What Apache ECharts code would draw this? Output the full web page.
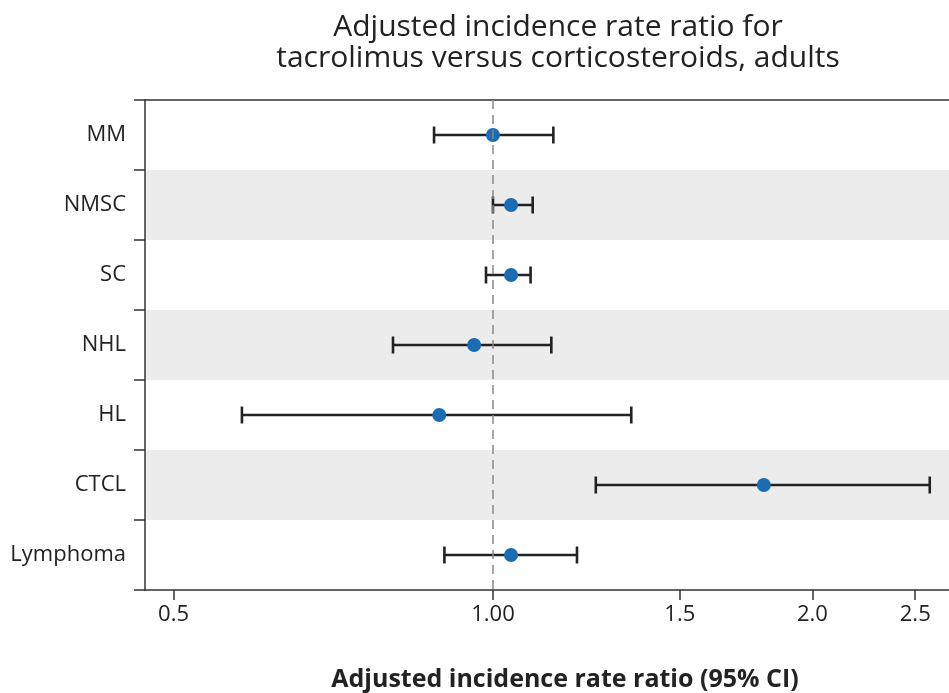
<!DOCTYPE html>
<html>
<head>
<meta charset="utf-8">
<script src="https://cdn.jsdelivr.net/npm/echarts@6/dist/echarts.min.js"></script>
<style>
  html, body { margin: 0; padding: 0; background: #fff; }
  #chart { width: 949px; height: 693px; }
</style>
</head>
<body>
<div id="chart"></div>
<script>
// forest plot data
var categories = ["MM", "NMSC", "SC", "NHL", "HL", "CTCL", "Lymphoma"];
var estimates = [1.00, 1.04, 1.04, 0.96, 0.89, 1.80, 1.04];
var lower = [0.88, 1.00, 0.985, 0.805, 0.58, 1.25, 0.90];
var upper = [1.14, 1.09, 1.085, 1.135, 1.35, 2.58, 1.20];
var tickValues = [0.5, 1, 1.5, 2, 2.5];
var tickLabels = ["0.5", "1.00", "1.5", "2.0", "2.5"];

var font = "'Open Sans', Lato, sans-serif";
var ln = Math.log;

var chartDom = document.getElementById("chart");
var myChart = echarts.init(chartDom);

var barData = categories.map(function (c, i) {
  return [i, ln(lower[i]), ln(upper[i])];
});
var pointData = categories.map(function (c, i) {
  return [ln(estimates[i]), c];
});
var tickPos = tickValues.map(function (v) { return ln(v); });

var option = {
  animation: false,
  title: {
    text: "Adjusted incidence rate ratio for\ntacrolimus versus corticosteroids, adults",
    left: 553,
    top: 7,
    textAlign: "center",
    textStyle: {
      fontFamily: font,
      fontSize: 30,
      fontWeight: 500,
      lineHeight: 31,
      color: "#222",
    },
  },
  grid: {
    left: 145,
    right: 0,
    top: 100,
    bottom: 103,
    outerBoundsMode: "none",
    containLabel: false,
  },
  xAxis: [
    {
      type: "value",
      min: ln(0.47),
      max: ln(2.69),
      splitLine: { show: false },
      axisLine: { show: true, lineStyle: { color: "#333", width: 1.5 } },
      axisTick: {
        show: true,
        length: 10,
        customValues: tickPos,
        lineStyle: { color: "#333", width: 1.5 },
      },
      axisLabel: {
        customValues: tickPos,
        margin: 14,
        fontFamily: font,
        fontSize: 22,
        color: "#222",
        formatter: function (value) {
          var best = 0;
          for (var i = 1; i < tickPos.length; i++) {
            if (Math.abs(tickPos[i] - value) < Math.abs(tickPos[best] - value)) best = i;
          }
          return tickLabels[best];
        },
      },
      name: "Adjusted incidence rate ratio (95% CI)",
      nameLocation: "middle",
      nameGap: 77,
      nameTextStyle: {
        fontFamily: font,
        fontSize: 25,
        fontWeight: "bold",
        color: "#222",
        padding: [0, 0, 0, 36],
      },
    },
    {
      type: "value",
      position: "top",
      min: ln(0.47),
      max: ln(2.69),
      splitLine: { show: false },
      axisLine: { show: true, onZero: false, lineStyle: { color: "#333", width: 1.5 } },
      axisTick: { show: false },
      axisLabel: { show: false },
    },
  ],
  yAxis: {
    type: "category",
    inverse: true,
    data: categories,
    axisLine: { show: true, onZero: false, lineStyle: { color: "#333", width: 1.5 } },
    axisTick: { show: true, length: 11, lineStyle: { color: "#333", width: 1.5 } },
    axisLabel: {
      margin: 19,
      fontFamily: font,
      fontSize: 22,
      color: "#222",
    },
    splitArea: {
      show: true,
      areaStyle: { color: ["#ffffff", "#ececec"] },
    },
  },
  series: [
    {
      name: "ref",
      type: "scatter",
      data: [],
      z: 1,
      markLine: {
        silent: true,
        symbol: "none",
        label: { show: false },
        lineStyle: { color: "#888", type: [9, 6], width: 1.5 },
        data: [{ xAxis: 0 }],
      },
    },
    {
      name: "CI",
      type: "custom",
      z: 2,
      data: barData,
      encode: { x: [1, 2], y: 0 },
      renderItem: function (params, api) {
        var y = api.value(0);
        var lo = api.coord([api.value(1), y]);
        var hi = api.coord([api.value(2), y]);
        var h = 8.5;
        var st = { stroke: "#222", lineWidth: 2.6 };
        return {
          type: "group",
          children: [
            { type: "line", shape: { x1: lo[0], y1: lo[1], x2: hi[0], y2: hi[1] }, style: st },
            { type: "line", shape: { x1: lo[0], y1: lo[1] - h, x2: lo[0], y2: lo[1] + h }, style: st },
            { type: "line", shape: { x1: hi[0], y1: hi[1] - h, x2: hi[0], y2: hi[1] + h }, style: st },
          ],
        };
      },
    },
    {
      name: "IRR",
      type: "scatter",
      z: 3,
      data: pointData,
      symbol: "circle",
      symbolSize: 14,
      itemStyle: { color: "#1b6db3", opacity: 1 },
    },
  ],
};
myChart.setOption(option);
</script>
</body>
</html>
